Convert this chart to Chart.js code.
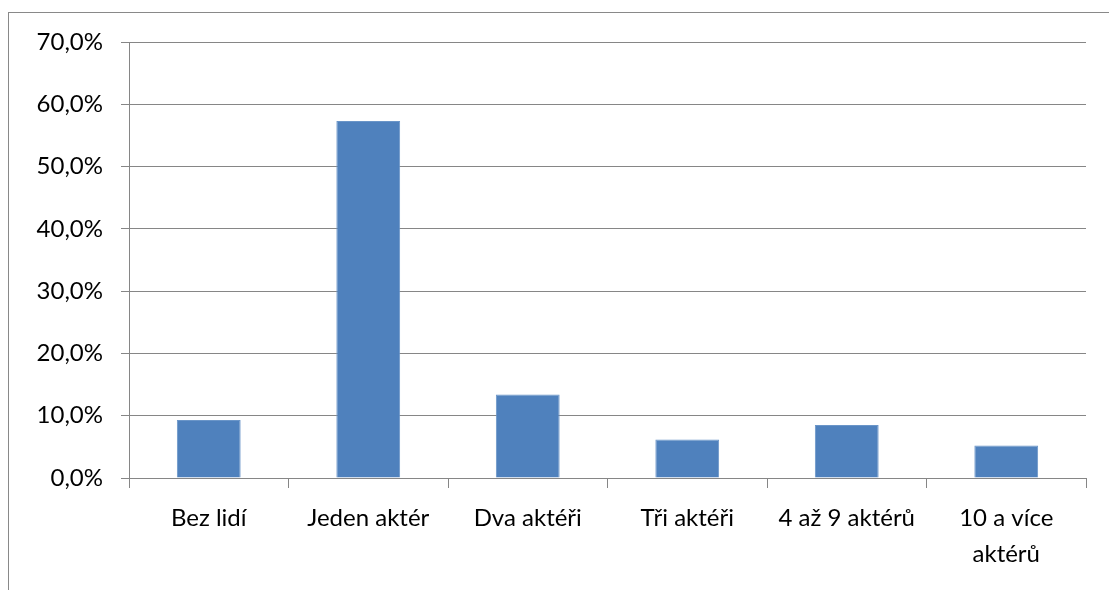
<!DOCTYPE html>
<html>
<head>
<meta charset="utf-8">
<script src="https://cdn.jsdelivr.net/npm/chart.js@4"></script>
<style>
  html, body { margin: 0; padding: 0; background: #fff; }
  #wrap { position: relative; width: 1109px; height: 590px; overflow: hidden; }
  #frame { position: absolute; left: 8px; top: 12px; width: 1200px; height: 700px; border: 1px solid #898989; }
  canvas { position: absolute; left: 0; top: 0; }
</style>
</head>
<body>
<div id="wrap">
  <div id="frame"></div>
  <canvas id="chart" width="1109" height="590"></canvas>
</div>
<script>
// categories and shares (percent)
const labels = ['Bez lidí', 'Jeden aktér', 'Dva aktéři', 'Tři aktéři', '4 až 9 aktérů', ['10 a více', 'aktérů']];
const values = [9.3, 57.3, 13.4, 6.2, 8.5, 5.2];

const axisGray = '#868686';
const fontFamily = 'Lato, "Open Sans", sans-serif';

new Chart(document.getElementById('chart'), {
    type: 'bar',
    data: {
        labels: labels,
        datasets: [
            {
                data: values,
                backgroundColor: '#4F81BD',
                borderColor: '#6a95c8',
                borderWidth: 1,
                categoryPercentage: 1,
                barPercentage: 0.4,
            },
        ],
    },
    options: {
        responsive: false,
        animation: false,
        layout: {
            padding: { top: 42, right: 23, left: 0, bottom: 0 },
        },
        scales: {
            y: {
                min: 0,
                max: 70,
                ticks: {
                    stepSize: 10,
                    padding: 18,
                    color: '#000',
                    font: { family: fontFamily, size: 24 },
                    callback: (v) => v.toFixed(1).replace('.', ',') + '%',
                },
                grid: {
                    color: axisGray,
                    tickLength: 8,
                },
                border: { color: axisGray },
                afterFit: (scale) => { scale.width = 129; },
            },
            x: {
                ticks: {
                    padding: 13,
                    color: '#000',
                    maxRotation: 0,
                    autoSkip: false,
                    font: { family: fontFamily, size: 24, lineHeight: 1.48 },
                },
                grid: {
                    drawOnChartArea: false,
                    color: axisGray,
                    tickLength: 10,
                    offset: true,
                },
                border: { color: axisGray },
                afterFit: (scale) => { scale.height = 112; },
            },
        },
        plugins: {
            legend: { display: false },
            tooltip: { enabled: false },
        },
    },
});
</script>
</body>
</html>
